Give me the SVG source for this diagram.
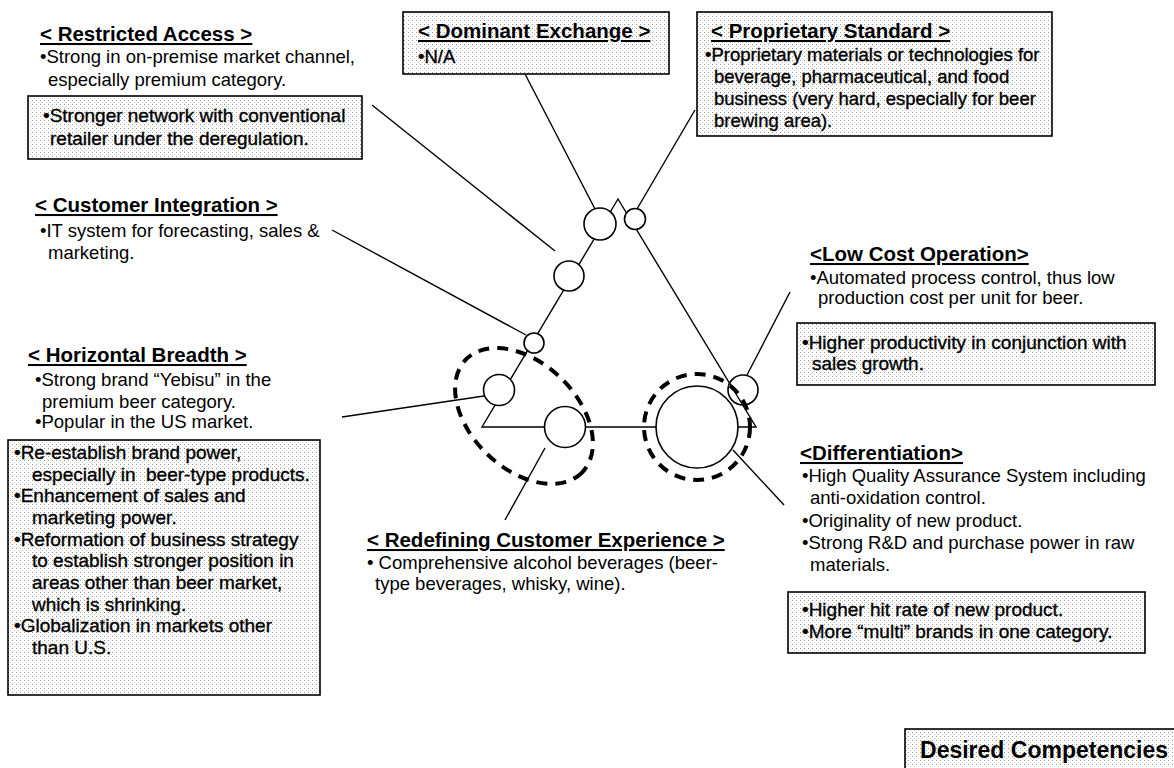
<svg xmlns="http://www.w3.org/2000/svg" width="1174" height="768" viewBox="0 0 1174 768">
<defs>
<pattern id="dots" width="4" height="4" patternUnits="userSpaceOnUse">
<rect width="4" height="4" fill="#fff"/>
<rect x="0" y="0" width="1" height="1" fill="#9a9a9a"/>
<rect x="2" y="2" width="1" height="1" fill="#d0d0d0"/>
</pattern>
<style>
text{font-family:"Liberation Sans",Arial,Helvetica,sans-serif;fill:#000}
.t{font-size:20.5px;font-weight:bold;text-decoration:underline}
.b{font-size:18.5px}
.bx{font-size:19px;stroke:#000;stroke-width:0.35}
.bp{font-size:18.5px;stroke:#000;stroke-width:0.35}
.box{fill:url(#dots);stroke:#000;stroke-width:1.6}
.ln{stroke:#000;stroke-width:1.4;fill:none}
.c{fill:#fff;stroke:#000;stroke-width:1.6}
.co{fill:none;stroke:#000;stroke-width:1.6}
.dash{fill:none;stroke:#000;stroke-width:4;stroke-dasharray:11 8}
</style>
</defs>
<rect width="1174" height="768" fill="#fff"/>

<g id="connectors">
<line class="ln" x1="372" y1="105" x2="555" y2="251"/>
<line class="ln" x1="525" y1="74" x2="595" y2="209"/>
<line class="ln" x1="695" y1="110" x2="637" y2="209"/>
<line class="ln" x1="332" y1="230" x2="526" y2="335"/>
<line class="ln" x1="342" y1="417" x2="484" y2="396"/>
<line class="ln" x1="545" y1="448" x2="505" y2="520"/>
<line class="ln" x1="790" y1="292" x2="747" y2="375"/>
<line class="ln" x1="733" y1="450" x2="784" y2="505"/>
</g>

<g id="triangle">
<polygon class="ln" points="618,199 482,427 756,427"/>
<circle class="c" cx="600" cy="224" r="16"/>
<circle class="c" cx="635" cy="219" r="10.5"/>
<circle class="c" cx="569" cy="276" r="15"/>
<circle class="c" cx="534" cy="343" r="10"/>
<circle class="c" cx="499" cy="390" r="15.5"/>
<circle class="c" cx="565" cy="427" r="20.5"/>
<circle class="c" cx="697" cy="427" r="41"/>
<circle class="co" cx="743" cy="390" r="15"/>
</g>

<g id="focus-areas">
<ellipse class="dash" cx="524" cy="416" rx="81" ry="53" transform="rotate(44 524 416)"/>
<circle class="dash" cx="697" cy="427" r="53"/>
</g>

<g id="restricted-access">
<text class="t" x="40" y="41">&lt; Restricted Access &gt;</text>
<text class="b" x="40" y="63">•Strong in on-premise market channel,</text>
<text class="b" x="48" y="86">especially premium category.</text>
<rect class="box" x="28" y="96" width="334" height="63"/>
<text class="bx" x="43" y="122">•Stronger network with conventional</text>
<text class="bx" x="50" y="145">retailer under the deregulation.</text>
</g>

<g id="dominant-exchange">
<rect class="box" x="403" y="12" width="266" height="62"/>
<text class="t" x="418" y="38">&lt; Dominant Exchange &gt;</text>
<text class="bp" x="418" y="63">•N/A</text>
</g>

<g id="proprietary-standard">
<rect class="box" x="697" y="12" width="355" height="124"/>
<text class="t" x="711" y="38">&lt; Proprietary Standard &gt;</text>
<text class="bp" x="705" y="61">•Proprietary materials or technologies for</text>
<text class="bp" x="714" y="83">beverage, pharmaceutical, and food</text>
<text class="bp" x="714" y="105">business (very hard, especially for beer</text>
<text class="bp" x="714" y="127">brewing area).</text>
</g>

<g id="customer-integration">
<text class="t" x="35" y="212">&lt; Customer Integration &gt;</text>
<text class="b" x="40" y="237">•IT system for forecasting, sales &amp;</text>
<text class="b" x="48" y="259">marketing.</text>
</g>

<g id="horizontal-breadth">
<text class="t" x="28" y="362">&lt; Horizontal Breadth &gt;</text>
<text class="b" x="35" y="386">•Strong brand “Yebisu” in the</text>
<text class="b" x="42" y="408">premium beer category.</text>
<text class="b" x="35" y="428">•Popular in the US market.</text>
<rect class="box" x="8" y="440" width="312" height="255"/>
<text class="bx" x="14" y="459">•Re-establish brand power,</text>
<text class="bx" x="32" y="481">especially in&#160; beer-type products.</text>
<text class="bx" x="14" y="502">•Enhancement of sales and</text>
<text class="bx" x="32" y="524">marketing power.</text>
<text class="bx" x="14" y="546">•Reformation of business strategy</text>
<text class="bx" x="32" y="567">to establish stronger position in</text>
<text class="bx" x="32" y="589">areas other than beer market,</text>
<text class="bx" x="32" y="611">which is shrinking.</text>
<text class="bx" x="14" y="632">•Globalization in markets other</text>
<text class="bx" x="32" y="654">than U.S.</text>
</g>

<g id="low-cost-operation">
<text class="t" x="810" y="261">&lt;Low Cost Operation&gt;</text>
<text class="b" x="810" y="284">•Automated process control, thus low</text>
<text class="b" x="818" y="304">production cost per unit for beer.</text>
<rect class="box" x="797" y="323" width="358" height="62"/>
<text class="bx" x="802" y="349">•Higher productivity in conjunction with</text>
<text class="bx" x="812" y="370">sales growth.</text>
</g>

<g id="differentiation">
<text class="t" x="800" y="460">&lt;Differentiation&gt;</text>
<text class="b" x="802" y="482">•High Quality Assurance System including</text>
<text class="b" x="810" y="504">anti-oxidation control.</text>
<text class="b" x="802" y="527">•Originality of new product.</text>
<text class="b" x="802" y="549">•Strong R&amp;D and purchase power in raw</text>
<text class="b" x="810" y="571">materials.</text>
<rect class="box" x="788" y="592" width="357" height="61"/>
<text class="bx" x="802" y="616">•Higher hit rate of new product.</text>
<text class="bx" x="802" y="638">•More “multi” brands in one category.</text>
</g>

<g id="redefining-customer-experience">
<text class="t" x="367" y="547">&lt; Redefining Customer Experience &gt;</text>
<text class="b" x="367" y="569">• Comprehensive alcohol beverages (beer-</text>
<text class="b" x="375" y="590">type beverages, whisky, wine).</text>
</g>

<g id="desired-competencies">
<rect class="box" x="905" y="729" width="290" height="50"/>
<text x="1168" y="758" text-anchor="end" style="font-size:23px;font-weight:bold">Desired Competencies</text>
</g>
</svg>
